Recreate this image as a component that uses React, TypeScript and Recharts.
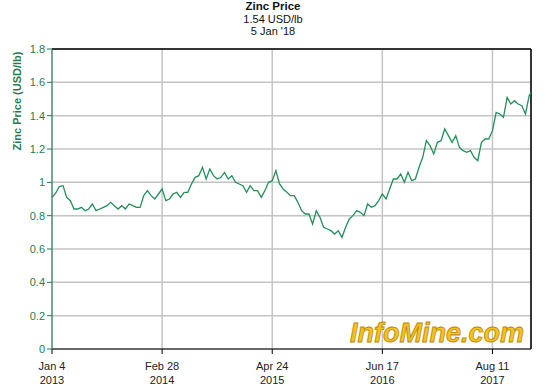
import { LineChart, Line, XAxis, YAxis, CartesianGrid, ReferenceLine } from 'recharts'

// weekly index: week 0 = Jan 4 2013, one value every 2 weeks, last = Jan 5 2018
const prices = [
  0.91, 0.935, 0.975, 0.98, 0.91, 0.89, 0.84, 0.84, 0.85, 0.83,
  0.84, 0.87, 0.83, 0.84, 0.85, 0.86, 0.88, 0.86, 0.84, 0.86,
  0.84, 0.87, 0.86, 0.85, 0.85, 0.92, 0.95, 0.92, 0.9, 0.93,
  0.96, 0.89, 0.9, 0.93, 0.94, 0.91, 0.94, 0.94, 0.99, 1.03,
  1.04, 1.09, 1.02, 1.08, 1.04, 1.02, 1.03, 1.06, 1.02, 1.04,
  1.0, 0.99, 0.98, 0.94, 0.98, 0.95, 0.95, 0.91, 0.95, 1.0,
  1.01, 1.07, 0.99, 0.96, 0.94, 0.92, 0.92, 0.88, 0.83, 0.81,
  0.81, 0.75, 0.83, 0.79, 0.73, 0.72, 0.71, 0.69, 0.71, 0.67,
  0.73, 0.78, 0.8, 0.83, 0.82, 0.8, 0.87, 0.85, 0.86, 0.89,
  0.93, 0.9, 0.96, 1.02, 1.02, 1.05, 1.0, 1.06, 1.01, 1.02,
  1.09, 1.15, 1.25, 1.22, 1.17, 1.24, 1.25, 1.32, 1.28, 1.24,
  1.28, 1.21, 1.19, 1.18, 1.19, 1.15, 1.13, 1.24, 1.26, 1.26,
  1.31, 1.42, 1.41, 1.39, 1.51, 1.47, 1.49, 1.47, 1.46, 1.41,
  1.52,
]
const lastWeek = 261
const lastPrice = 1.54

const tickWeeks = [0, 60, 120, 180, 240]
const tickDates = ['Jan 4', 'Feb 28', 'Apr 24', 'Jun 17', 'Aug 11']
const tickYears = ['2013', '2014', '2015', '2016', '2017']
const yTicks = [0, 0.2, 0.4, 0.6, 0.8, 1, 1.2, 1.4, 1.6, 1.8]

const data = prices.map((p, i) => ({ week: i * 2, price: p }))
data.push({ week: lastWeek, price: lastPrice })

const GREEN = '#1f7d4f'
const FONT = 'Arial, "Liberation Sans", sans-serif'

function XTick({ x, y, payload }: any) {
  const i = tickWeeks.indexOf(payload.value)
  return (
    <g>
      <text x={x} y={y + 14} textAnchor="middle" fontSize={11} fill="#222" fontFamily={FONT}>{tickDates[i]}</text>
      <text x={x} y={y + 28} textAnchor="middle" fontSize={11} fill="#222" fontFamily={FONT}>{tickYears[i]}</text>
    </g>
  )
}

export default function App() {
  return (
    <div style={{ position: 'absolute', left: 0, top: 0, width: 558, height: 392, background: '#fff', fontFamily: FONT }}>
      <LineChart width={558} height={392} data={data} margin={{ top: 49, right: 27, bottom: 0, left: 0 }}>
        <CartesianGrid stroke="#c4c4c4" strokeWidth={1.5} />
        <XAxis
          dataKey="week"
          type="number"
          domain={[0, lastWeek]}
          ticks={tickWeeks}
          height={43}
          stroke="#000"
          tickSize={5}
          tick={<XTick />}
        />
        <YAxis
          domain={[0, 1.8]}
          ticks={yTicks}
          width={52}
          stroke={GREEN}
          tickSize={5}
          tick={{ fill: GREEN, fontSize: 11, fontFamily: FONT }}
          label={{
            value: 'Zinc Price (USD/lb)', angle: -90, position: 'insideLeft', dx: 12, dy: -98,
            style: { fill: GREEN, fontSize: 11, fontWeight: 'bold', fontFamily: FONT, textAnchor: 'middle' },
          }}
        />
        <ReferenceLine y={1.8} stroke="#000" strokeWidth={1.5} />
        <ReferenceLine x={lastWeek} stroke="#000" strokeWidth={1.5} />
        <Line type="linear" dataKey="price" stroke="#23905a" strokeWidth={1.3} dot={false} isAnimationActive={false} />
        <text x={273} y={10} textAnchor="middle" fontSize={11.5} fontWeight="bold" fill="#111" fontFamily={FONT}>Zinc Price</text>
        <text x={273} y={22.5} textAnchor="middle" fontSize={11} fill="#111" fontFamily={FONT}>1.54 USD/lb</text>
        <text x={273} y={35} textAnchor="middle" fontSize={11} fill="#111" fontFamily={FONT}>5 Jan '18</text>
        <text x={524} y={342} textAnchor="end" fontSize={27} fontWeight="bold" fontStyle="italic" fontFamily={FONT}
          fill="#f6c21c" stroke="#b8860b" strokeWidth={0.8}>InfoMine.com</text>
      </LineChart>
    </div>
  )
}
